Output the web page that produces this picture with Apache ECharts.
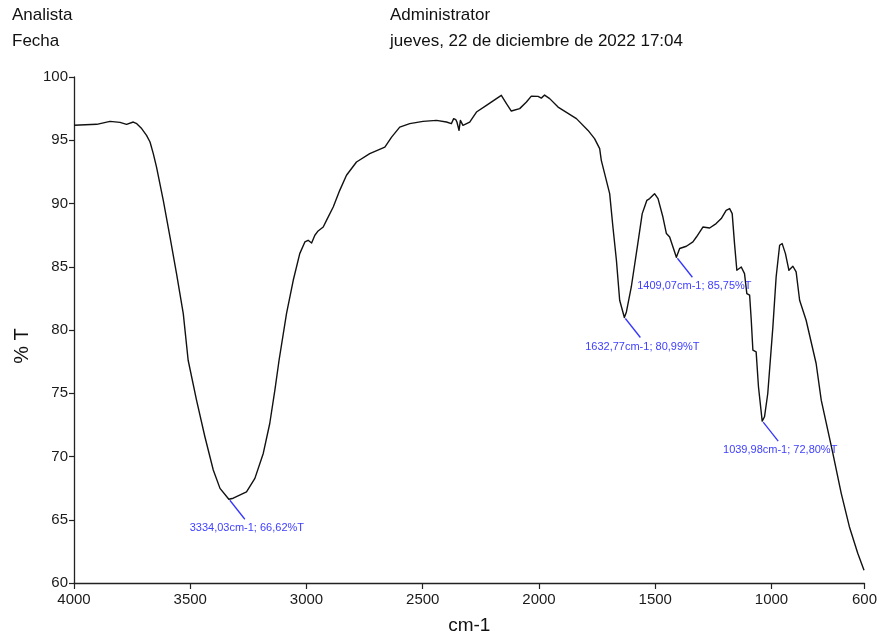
<!DOCTYPE html>
<html>
<head>
<meta charset="utf-8">
<script src="https://cdn.jsdelivr.net/npm/echarts@6/dist/echarts.min.js"></script>
<style>
html,body{margin:0;padding:0;background:#fff;}
#chart{width:880px;height:641px;}
</style>
</head>
<body>
<div id="chart"></div>
<script>
// Header texts
var headerLeft = ['Analista', 'Fecha'];
var headerRight = ['Administrator', 'jueves, 22 de diciembre de 2022 17:04'];

// Axis tick labels
var xTicks = [4000, 3500, 3000, 2500, 2000, 1500, 1000, 600];
var yTicks = [60, 65, 70, 75, 80, 85, 90, 95, 100];

// Spectrum: wavenumber (cm-1) and %T
var wavenumber = [4000, 3902, 3845, 3802, 3774, 3745, 3730, 3709, 3688, 3673, 3659, 3645, 3616, 3587, 3559, 3530, 3509, 3473, 3437, 3401, 3372, 3334, 3315, 3258, 3222, 3186, 3158, 3136, 3118, 3086, 3057, 3029, 3007, 2993, 2978, 2964, 2950, 2943, 2928, 2914, 2885, 2857, 2828, 2785, 2728, 2663, 2634, 2599, 2556, 2499, 2441, 2398, 2377, 2367, 2358, 2353, 2344, 2338, 2327, 2298, 2269, 2226, 2183, 2162, 2140, 2119, 2083, 2054, 2033, 2004, 1990, 1976, 1954, 1918, 1839, 1789, 1761, 1739, 1732, 1696, 1682, 1667, 1653, 1632.77, 1624, 1603, 1575, 1556, 1546, 1536, 1524, 1503, 1488, 1467, 1452, 1438, 1409.07, 1395, 1366, 1338, 1323, 1295, 1266, 1238, 1216, 1195, 1180, 1169, 1159, 1149, 1130, 1116, 1106, 1094, 1087, 1080, 1066, 1056, 1039.98, 1030, 1016, 994, 980, 965, 954, 940, 925, 908, 894, 879, 851, 808, 786, 736, 700, 665, 629, 602];
var transmittance = [96.18, 96.26, 96.49, 96.41, 96.26, 96.44, 96.31, 95.92, 95.39, 94.86, 93.94, 92.88, 90.25, 87.35, 84.46, 81.30, 77.61, 74.45, 71.56, 68.93, 67.48, 66.62, 66.70, 67.21, 68.27, 70.24, 72.61, 75.24, 77.61, 81.30, 83.93, 86.04, 86.96, 87.09, 86.88, 87.49, 87.83, 87.75, 88.14, 88.67, 89.72, 91.04, 92.23, 93.28, 93.94, 94.46, 95.25, 96.04, 96.31, 96.49, 96.57, 96.44, 96.31, 96.71, 96.63, 96.44, 95.78, 96.57, 96.18, 96.44, 97.23, 97.76, 98.29, 98.55, 97.89, 97.31, 97.50, 98.02, 98.49, 98.47, 98.33, 98.57, 98.29, 97.62, 96.71, 95.78, 95.13, 94.34, 93.41, 90.78, 88.14, 85.51, 82.35, 80.99, 81.43, 83.40, 86.83, 89.20, 89.72, 90.25, 90.39, 90.78, 90.39, 88.93, 87.62, 87.35, 85.75, 86.44, 86.62, 86.96, 87.35, 88.14, 88.06, 88.41, 88.81, 89.46, 89.60, 89.20, 86.83, 84.72, 84.98, 84.46, 82.88, 82.75, 80.77, 78.40, 78.27, 75.51, 72.80, 73.14, 74.98, 80.25, 84.19, 86.70, 86.83, 86.04, 84.72, 85.04, 84.59, 82.35, 80.77, 77.35, 74.45, 70.24, 67.09, 64.45, 62.35, 61.00];

// Peak annotations
var peakWn = [3334.03, 1632.77, 1409.07, 1039.98];
var peakT = [66.62, 80.99, 85.75, 72.80];
var peakLabels = ['3334,03cm-1; 66,62%T', '1632,77cm-1; 80,99%T', '1409,07cm-1; 85,75%T', '1039,98cm-1; 72,80%T'];

var chart = echarts.init(document.getElementById('chart'), null, {renderer: 'canvas'});

var lineData = wavenumber.map(function (w, i) { return [w, transmittance[i]]; });
var peakData = peakWn.map(function (w, i) { return [w, peakT[i], i]; });

var textFont = "'Liberation Sans', Arial, sans-serif";

var option = {
  backgroundColor: '#ffffff',
  animation: false,
  grid: {left: 74, right: 15, top: 77, bottom: 58, containLabel: false},
  xAxis: {
    type: 'value',
    inverse: true,
    min: 600,
    max: 4000,
    name: 'cm-1',
    nameLocation: 'middle',
    nameGap: 33,
    nameTextStyle: {fontFamily: textFont, fontSize: 19, color: '#111'},
    axisLine: {show: true, lineStyle: {color: '#222', width: 1.3}},
    axisTick: {show: true, length: 6, customValues: xTicks, lineStyle: {color: '#222', width: 1.2}},
    axisLabel: {show: true, customValues: xTicks, margin: 9, fontFamily: textFont, fontSize: 15, color: '#1a1a1a',
      formatter: function (v) { return String(v); }},
    splitLine: {show: false}
  },
  yAxis: {
    type: 'value',
    min: 60,
    max: 100,
    interval: 5,
    axisLine: {show: true, lineStyle: {color: '#222', width: 1.3}},
    axisTick: {show: true, length: 5, customValues: yTicks, lineStyle: {color: '#222', width: 1.2}},
    axisLabel: {show: true, customValues: yTicks, margin: 6, fontFamily: textFont, fontSize: 15, color: '#1a1a1a',
      formatter: function (v) { return String(v); }},
    splitLine: {show: false}
  },
  graphic: [
    {type: 'text', left: 12, top: 7, style: {text: headerLeft[0], font: '17px ' + textFont, fill: '#111'}},
    {type: 'text', left: 12, top: 33, style: {text: headerLeft[1], font: '17px ' + textFont, fill: '#111'}},
    {type: 'text', left: 390, top: 7, style: {text: headerRight[0], font: '17px ' + textFont, fill: '#111'}},
    {type: 'text', left: 390, top: 33, style: {text: headerRight[1], font: '17px ' + textFont, fill: '#111'}},
    {type: 'text', x: 22, y: 346, rotation: Math.PI / 2, style: {text: '% T', font: '20px ' + textFont, fill: '#111', textAlign: 'center', textVerticalAlign: 'middle'}}
  ],
  series: [
    {
      type: 'line',
      data: lineData,
      symbol: 'none',
      smooth: false,
      lineStyle: {color: '#111', width: 1.4, join: 'round'},
      silent: true
    },
    {
      type: 'custom',
      data: peakData,
      silent: true,
      renderItem: function (params, api) {
        var p = api.coord([api.value(0), api.value(1)]);
        var idx = api.value(2);
        return {
          type: 'group',
          children: [
            {type: 'line', shape: {x1: p[0] + 1, y1: p[1] + 1, x2: p[0] + 16, y2: p[1] + 20},
             style: {stroke: '#3535ff', lineWidth: 1.3}},
            {type: 'text', style: {text: peakLabels[idx], x: p[0] + 18, y: p[1] + 29,
             textAlign: 'center', textVerticalAlign: 'middle',
             font: '11px ' + textFont, fill: '#4040ff'}}
          ]
        };
      }
    }
  ]
};
chart.setOption(option);
</script>
</body>
</html>
